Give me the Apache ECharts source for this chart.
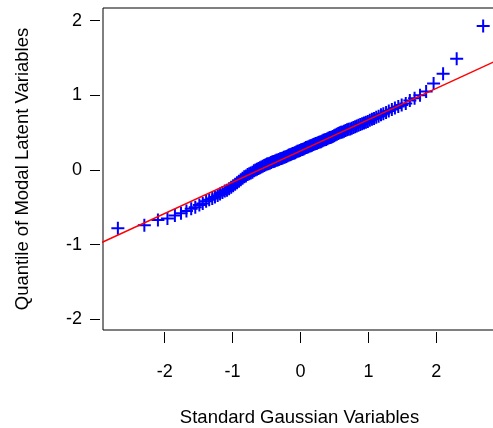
<!DOCTYPE html>
<html>
<head>
<meta charset="utf-8">
<script src="https://cdn.jsdelivr.net/npm/echarts@6/dist/echarts.min.js"></script>
<style>
  html, body { margin: 0; padding: 0; background: #fff; }
  #chart { width: 493px; height: 428px; }
</style>
</head>
<body>
<div id="chart"></div>
<script>
// Theoretical quantiles (x) and sample quantiles (y)
const gaussX = [
  -2.69, -2.30, -2.10, -1.96, -1.85, -1.76, -1.68, -1.61, -1.55, -1.49,
  -1.44, -1.39, -1.345, -1.30, -1.26, -1.22, -1.185, -1.15, -1.115, -1.083,
  -1.052, -1.021, -0.992, -0.963, -0.935, -0.907, -0.880, -0.854, -0.829, -0.804,
  -0.779, -0.755, -0.732, -0.708, -0.686, -0.663, -0.641, -0.619, -0.598, -0.577,
  -0.556, -0.535, -0.514, -0.494, -0.474, -0.454, -0.434, -0.414, -0.395, -0.376,
  -0.356, -0.337, -0.319, -0.300, -0.281, -0.263, -0.244, -0.226, -0.208, -0.189,
  -0.171, -0.153, -0.135, -0.117, -0.099, -0.081, -0.063, -0.045, -0.027, -0.009,
  0.009, 0.027, 0.045, 0.063, 0.081, 0.099, 0.117, 0.135, 0.153, 0.171,
  0.189, 0.208, 0.226, 0.244, 0.263, 0.281, 0.300, 0.319, 0.337, 0.356,
  0.376, 0.395, 0.414, 0.434, 0.454, 0.474, 0.494, 0.514, 0.535, 0.556,
  0.577, 0.598, 0.619, 0.641, 0.663, 0.686, 0.708, 0.732, 0.755, 0.779,
  0.804, 0.829, 0.854, 0.880, 0.907, 0.935, 0.963, 0.992, 1.021, 1.052,
  1.083, 1.115, 1.15, 1.185, 1.22, 1.26, 1.30, 1.345, 1.39, 1.44,
  1.49, 1.55, 1.61, 1.68, 1.76, 1.85, 1.96, 2.10, 2.30, 2.69
];
const latentY = [
  -0.78, -0.74, -0.67, -0.65, -0.61, -0.58, -0.55, -0.52, -0.50, -0.47,
  -0.45, -0.42, -0.40, -0.38, -0.36, -0.34, -0.32, -0.30, -0.28, -0.27,
  -0.25, -0.23, -0.21, -0.19, -0.17, -0.15, -0.13, -0.11, -0.09, -0.08,
  -0.06, -0.05, -0.04, -0.03, -0.01, 0.00, 0.01, 0.02, 0.03, 0.04,
  0.05, 0.06, 0.07, 0.08, 0.085, 0.09, 0.10, 0.11, 0.115, 0.12,
  0.13, 0.135, 0.14, 0.15, 0.155, 0.16, 0.17, 0.175, 0.18, 0.19,
  0.20, 0.205, 0.21, 0.22, 0.225, 0.23, 0.24, 0.25, 0.255, 0.26,
  0.27, 0.275, 0.28, 0.29, 0.30, 0.305, 0.31, 0.32, 0.325, 0.33,
  0.34, 0.35, 0.355, 0.36, 0.37, 0.375, 0.38, 0.39, 0.40, 0.405,
  0.41, 0.42, 0.43, 0.435, 0.44, 0.45, 0.46, 0.47, 0.48, 0.49,
  0.50, 0.505, 0.51, 0.52, 0.53, 0.54, 0.545, 0.55, 0.56, 0.57,
  0.58, 0.59, 0.60, 0.61, 0.62, 0.63, 0.64, 0.65, 0.665, 0.68,
  0.69, 0.705, 0.72, 0.74, 0.755, 0.77, 0.79, 0.81, 0.83, 0.85,
  0.87, 0.89, 0.93, 0.96, 1.00, 1.05, 1.16, 1.29, 1.49, 1.93
];

// reference line endpoints
const refLineX = [-3, 3];
const refLineY = [-1.002, 1.512];

const tickValues = [-2, -1, 0, 1, 2];

const points = gaussX.map((x, i) => [x, latentY[i]]);
const refLine = refLineX.map((x, i) => [x, refLineY[i]]);

const font = "'Liberation Sans', Arial, sans-serif";

const chart = echarts.init(document.getElementById('chart'), null, {renderer: 'canvas'});

const option = {
    animation: false,
    backgroundColor: '#ffffff',
    grid: {
        left: 103,
        top: 8,
        right: -3,
        bottom: 98,
        containLabel: false,
        outerBoundsMode: 'none',
        show: true,
        borderColor: '#000000',
        borderWidth: 1
    },
    xAxis: {
        type: 'value',
        min: -2.909,
        max: 2.879,
        offset: 2,
        splitLine: {show: false},
        axisLine: {show: false, onZero: false},
        axisTick: {show: true, length: 11, customValues: tickValues, lineStyle: {color: '#000', width: 1}},
        axisLabel: {
            customValues: tickValues,
            margin: 31,
            fontSize: 18,
            fontFamily: font,
            color: '#000'
        },
        name: 'Standard Gaussian Variables',
        nameLocation: 'middle',
        nameGap: 76,
        nameTextStyle: {fontSize: 18.5, fontFamily: font, color: '#000'}
    },
    yAxis: {
        type: 'value',
        min: -2.143,
        max: 2.170,
        offset: 3,
        splitLine: {show: false},
        axisLine: {show: false, onZero: false},
        axisTick: {show: true, length: 10, customValues: tickValues, lineStyle: {color: '#000', width: 1}},
        axisLabel: {
            customValues: tickValues,
            margin: 18,
            fontSize: 18,
            fontFamily: font,
            color: '#000'
        },
        name: 'Quantile of Modal Latent Variables',
        nameLocation: 'middle',
        nameGap: 68,
        nameTextStyle: {fontSize: 18.5, fontFamily: font, color: '#000'}
    },
    series: [
        {
            // sample points as '+' markers
            type: 'scatter',
            data: points,
            symbol: 'path://M0,6L12,6M6,0L6,12',
            symbolSize: 13,
            itemStyle: {
                color: 'none',
                borderColor: '#0000ff',
                borderWidth: 2,
                opacity: 1
            },
            z: 2
        },
        {
            type: 'line',
            data: refLine,
            symbol: 'none',
            clip: true,
            lineStyle: {color: '#ff0000', width: 1.5},
            z: 3
        }
    ]
};

chart.setOption(option);
</script>
</body>
</html>
